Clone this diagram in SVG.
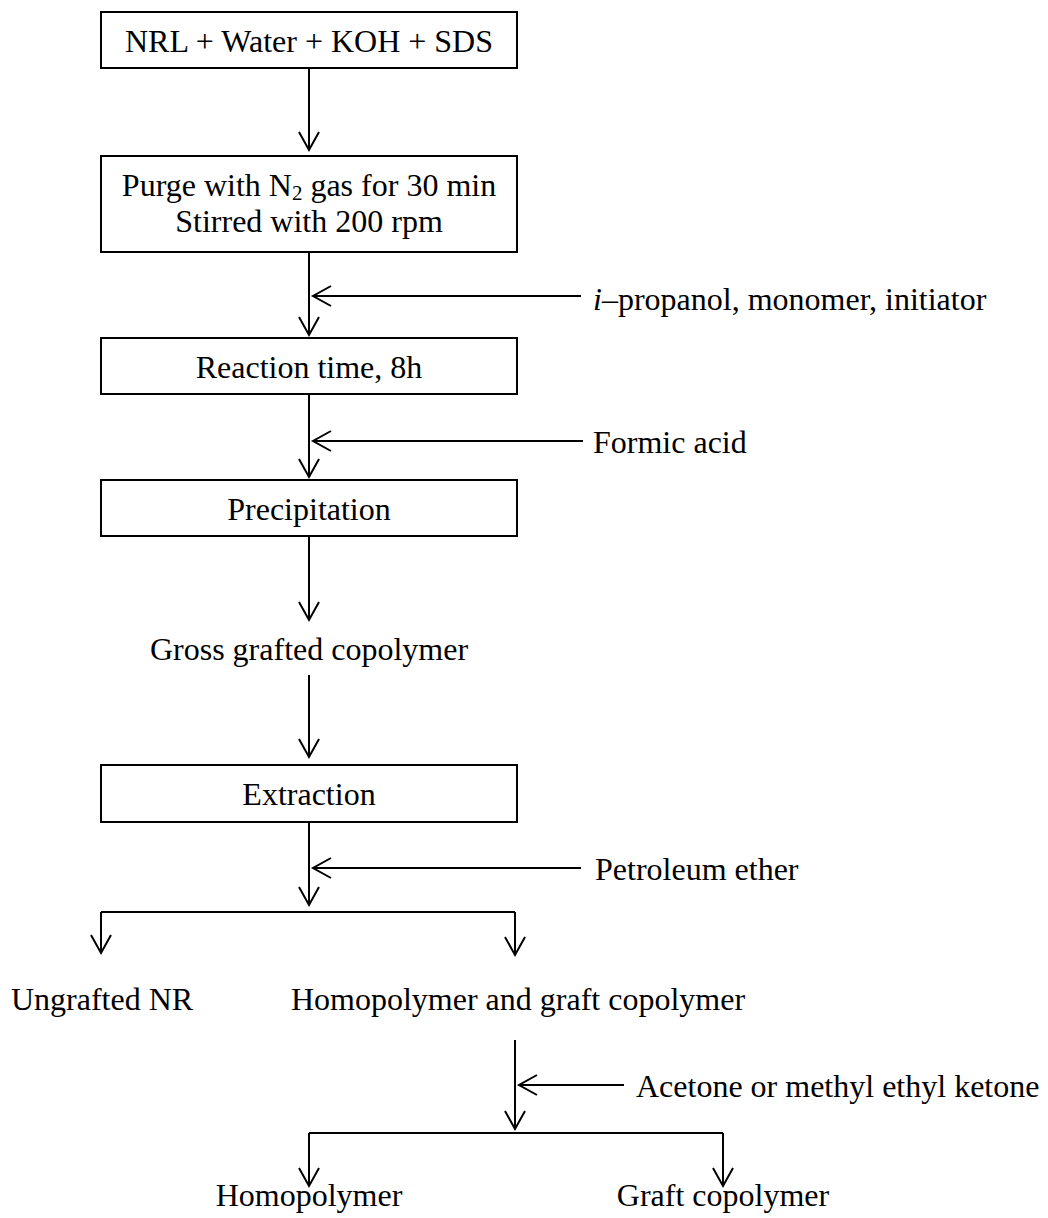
<svg xmlns="http://www.w3.org/2000/svg" width="1048" height="1218" viewBox="0 0 1048 1218">
<style>
  .box{fill:#fff;stroke:#000;stroke-width:2}
  .t{font-family:"Liberation Serif","Times New Roman",serif;font-size:32px;fill:#000}
  .c{text-anchor:middle}
  .ln{fill:none;stroke:#000;stroke-width:2}
  .ar{marker-end:url(#arr)}
</style>
<defs>
  <marker id="arr" viewBox="-20 -12 22 24" refX="0" refY="0" markerWidth="22" markerHeight="24" markerUnits="userSpaceOnUse" orient="auto" overflow="visible">
    <path d="M-18,-10 L0,0 L-18,10" fill="none" stroke="#000" stroke-width="2"/>
  </marker>
</defs>
<rect width="1048" height="1218" fill="#fff"/>

<g id="connectors">
  <path class="ln ar" d="M309,68 V150"/>
  <path class="ln ar" d="M309,252 V335"/>
  <path class="ln ar" d="M581,296 H313"/>
  <path class="ln ar" d="M309,394 V477"/>
  <path class="ln ar" d="M583,441 H313"/>
  <path class="ln ar" d="M309,536 V620"/>
  <path class="ln ar" d="M309,675 V757"/>
  <path class="ln ar" d="M309,822 V905"/>
  <path class="ln ar" d="M581,868 H313"/>
  <path class="ln" d="M101,912 H515"/>
  <path class="ln ar" d="M101,912 V953"/>
  <path class="ln ar" d="M515,912 V955"/>
  <path class="ln ar" d="M515,1040 V1129"/>
  <path class="ln ar" d="M624,1085 H519"/>
  <path class="ln" d="M309,1133 H723"/>
  <path class="ln ar" d="M309,1133 V1186"/>
  <path class="ln ar" d="M723,1133 V1186"/>
</g>

<g id="n-start">
  <rect class="box" x="101" y="12" width="416" height="56"/>
  <text class="t c" x="309" y="52">NRL + Water + KOH + SDS</text>
</g>
<g id="n-purge">
  <rect class="box" x="101" y="156" width="416" height="96"/>
  <text class="t c" x="309" y="196">Purge with N<tspan font-size="21" dy="4">2</tspan><tspan dy="-4"> gas for 30 min</tspan></text>
  <text class="t c" x="309" y="232">Stirred with 200 rpm</text>
</g>
<g id="in-propanol">
  <text class="t" x="593" y="310"><tspan font-style="italic">i</tspan>–propanol, monomer, initiator</text>
</g>
<g id="n-reaction">
  <rect class="box" x="101" y="338" width="416" height="56"/>
  <text class="t c" x="309" y="378">Reaction time, 8h</text>
</g>
<g id="in-formic">
  <text class="t" x="593" y="453">Formic acid</text>
</g>
<g id="n-precip">
  <rect class="box" x="101" y="480" width="416" height="56"/>
  <text class="t c" x="309" y="520">Precipitation</text>
</g>
<g id="n-gross">
  <text class="t c" x="309" y="660">Gross grafted copolymer</text>
</g>
<g id="n-extract">
  <rect class="box" x="101" y="765" width="416" height="57"/>
  <text class="t c" x="309" y="805">Extraction</text>
</g>
<g id="in-petroleum">
  <text class="t" x="595" y="880">Petroleum ether</text>
</g>
<g id="n-ungrafted">
  <text class="t c" x="102" y="1010">Ungrafted NR</text>
</g>
<g id="n-homograft">
  <text class="t c" x="518" y="1010">Homopolymer and graft copolymer</text>
</g>
<g id="in-acetone">
  <text class="t" x="636" y="1097">Acetone or methyl ethyl ketone</text>
</g>
<g id="n-homo">
  <text class="t c" x="309" y="1206">Homopolymer</text>
</g>
<g id="n-graft">
  <text class="t c" x="723" y="1206">Graft copolymer</text>
</g>
</svg>
